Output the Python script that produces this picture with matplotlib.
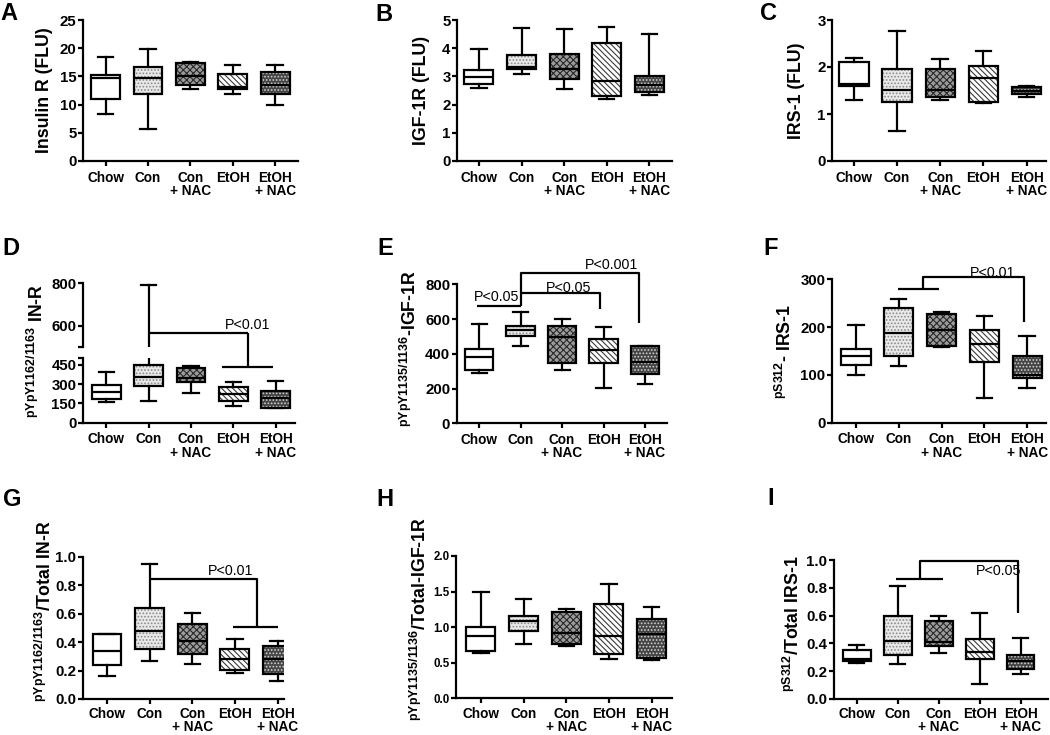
import matplotlib
matplotlib.use('Agg')
import matplotlib.pyplot as plt
from matplotlib.patches import PathPatch
from matplotlib.lines import Line2D

plt.rcParams['font.family'] = ['Liberation Sans', 'DejaVu Sans']
plt.rcParams['font.weight'] = 'bold'
plt.rcParams['axes.labelweight'] = 'bold'
plt.rcParams['mathtext.fontset'] = 'custom'
plt.rcParams['mathtext.rm'] = 'Liberation Sans:bold'
plt.rcParams['mathtext.bf'] = 'Liberation Sans:bold'
plt.rcParams['mathtext.it'] = 'Liberation Sans:bold'
plt.rcParams['hatch.linewidth'] = 0.8

# ---------------- data ----------------
categories = ['Chow', 'Con', 'Con\n+ NAC', 'EtOH', 'EtOH\n+ NAC']

# A  Insulin R (FLU)
A_lo  = [8.3, 5.7, 12.7, 11.9, 9.9]
A_q1  = [11.0, 11.8, 13.5, 12.8, 11.8]
A_med = [14.8, 14.8, 15.1, 13.2, 13.4]
A_q3  = [15.25, 16.7, 17.3, 15.4, 15.7]
A_hi  = [18.5, 19.8, 17.5, 17.0, 17.1]

# B  IGF-1R (FLU)
B_lo  = [2.6, 3.1, 2.55, 2.19, 2.34]
B_q1  = [2.73, 3.25, 2.9, 2.3, 2.43]
B_med = [2.99, 3.33, 3.25, 2.84, 2.7]
B_q3  = [3.22, 3.76, 3.78, 4.17, 3.01]
B_hi  = [3.97, 4.7, 4.68, 4.76, 4.5]

# C  IRS-1 (FLU)
C_lo  = [1.3, 0.64, 1.3, 1.23, 1.37]
C_q1  = [1.6, 1.26, 1.37, 1.26, 1.42]
C_med = [1.63, 1.52, 1.51, 1.77, 1.5]
C_q3  = [2.1, 1.95, 1.95, 2.02, 1.57]
C_hi  = [2.2, 2.77, 2.16, 2.35, 1.6]

# D  pYpY1162/1163 IN-R
D_lo  = [158, 169, 234, 132, 112]
D_q1  = [182, 288, 314, 168, 112]
D_med = [242, 358, 345, 220, 192]
D_q3  = [294, 449, 422, 280, 246]
D_hi  = [390, 790, 442, 314, 324]

# E  pYpY1135/1136-IGF-1R
E_lo  = [292, 447, 307, 205, 226]
E_q1  = [307, 505, 345, 345, 284]
E_med = [384, 537, 499, 422, 351]
E_q3  = [428, 560, 562, 486, 445]
E_hi  = [570, 643, 599, 557, 445]

# F  pS312- IRS-1
F_lo  = [100, 119, 158, 51, 72]
F_q1  = [121, 140, 160, 126, 93]
F_med = [140, 187, 194, 164, 100]
F_q3  = [154, 239, 227, 193, 139]
F_hi  = [204, 258, 231, 223, 181]

# G  pYpY1162/1163/Total IN-R
G_lo  = [0.164, 0.267, 0.246, 0.185, 0.129]
G_q1  = [0.236, 0.35, 0.318, 0.204, 0.176]
G_med = [0.34, 0.48, 0.407, 0.281, 0.28]
G_q3  = [0.46, 0.637, 0.525, 0.351, 0.375]
G_hi  = [0.46, 0.946, 0.602, 0.419, 0.41]

# H  pYpY1135/1136/Total-IGF-1R
H_lo  = [0.64, 0.76, 0.74, 0.55, 0.54]
H_q1  = [0.66, 0.95, 0.77, 0.62, 0.57]
H_med = [0.88, 1.09, 0.92, 0.88, 0.91]
H_q3  = [1.0, 1.15, 1.21, 1.32, 1.11]
H_hi  = [1.49, 1.40, 1.255, 1.6, 1.28]

# I  pS312/Total IRS-1
I_lo  = [0.26, 0.25, 0.33, 0.105, 0.177]
I_q1  = [0.27, 0.32, 0.38, 0.285, 0.213]
I_med = [0.29, 0.42, 0.41, 0.34, 0.27]
I_q3  = [0.35, 0.60, 0.56, 0.43, 0.32]
I_hi  = [0.39, 0.81, 0.60, 0.62, 0.44]

# ---------------- styling ----------------
FACES = ['white', '#e9e9e9', '#9c9c9c', 'white', '#444444']
HATCHES = [None, '.....', 'xxxxx', '\\\\\\\\\\\\', '.....']
HATCH_COLORS = [None, '#8a8a8a', '#2a2a2a', '#3a3a3a', '#d0d0d0']
LW = 1.6
YTICK_FS = 10.8
XTICK_FS = 9.8

W, H = 1050, 735
fig = plt.figure(figsize=(10.5, 7.35), dpi=100)


def add_ax(left, top, right, bottom):
    return fig.add_axes([left / W, 1 - bottom / H, (right - left) / W, (bottom - top) / H])


def draw_boxes(ax, lo, q1, med, q3, hi):
    stats = [dict(whislo=a, q1=b, med=c, q3=d, whishi=e, fliers=[])
             for a, b, c, d, e in zip(lo, q1, med, q3, hi)]
    bp = ax.bxp(stats, positions=range(1, 6), widths=0.68, capwidths=0.36,
                patch_artist=True, showfliers=False,
                boxprops=dict(linewidth=0, facecolor='white'),
                medianprops=dict(color='black', linewidth=LW),
                whiskerprops=dict(color='black', linewidth=LW),
                capprops=dict(color='black', linewidth=LW))
    for patch, fc, h, hc in zip(bp['boxes'], FACES, HATCHES, HATCH_COLORS):
        patch.set_facecolor(fc)
        patch.set_zorder(2)
        if h:
            ax.add_patch(PathPatch(patch.get_path(), facecolor='none', edgecolor=hc,
                                   hatch=h, linewidth=0, zorder=2.05))
        ax.add_patch(PathPatch(patch.get_path(), facecolor='none', edgecolor='black',
                               linewidth=LW, zorder=2.1))
    for ln in bp['medians']:
        ln.set_zorder(2.2)
    return bp


def style(ax, xlim, ylim, yticks, yticklabels, show_x=True, xpad=3.5, lsp=0.95,
          yfs=YTICK_FS):
    ax.set_xlim(*xlim)
    ax.set_ylim(*ylim)
    ax.spines['top'].set_visible(False)
    ax.spines['right'].set_visible(False)
    ax.spines['left'].set_linewidth(LW)
    ax.spines['bottom'].set_linewidth(LW)
    ax.set_yticks(yticks)
    ax.set_yticklabels(yticklabels)
    ax.tick_params(axis='y', length=3.5, width=LW, labelsize=yfs, pad=1.2)
    if show_x:
        ax.set_xticks(range(1, 6))
        ax.set_xticklabels(categories, linespacing=lsp)
        ax.tick_params(axis='x', length=3.5, width=LW, labelsize=XTICK_FS, pad=xpad)
    else:
        ax.spines['bottom'].set_visible(False)
        ax.set_xticks([])


def ylab(ax, text, right_px, center_frac, ax_left_px, ax_w_px):
    ax.set_ylabel(text, fontsize=12.8, fontweight='bold')
    ax.yaxis.set_label_coords((right_px - ax_left_px) / ax_w_px, center_frac)


def bracket(ax, xs, ys):
    ax.plot(xs, ys, color='black', lw=LW, clip_on=False, solid_capstyle='butt', zorder=3)


def ptext(ax, x, y, s):
    ax.text(x, y, s, ha='center', va='bottom', fontsize=10.3, fontweight='normal', zorder=4)


def letter(x, y, s):
    fig.text(x / W, 1 - y / H, s, fontsize=17, fontweight='bold', ha='left', va='baseline')


# ---------------- row 1 ----------------
axA = add_ax(83, 20, 298, 161)
draw_boxes(axA, A_lo, A_q1, A_med, A_q3, A_hi)
style(axA, (0.466, 5.54), (0, 25), [0, 5, 10, 15, 20, 25], ['0', '5', '10', '15', '20', '25'])
ylab(axA, 'Insulin R (FLU)', 53, 0.5, 83, 215)

axB = add_ax(457, 20, 672, 161)
draw_boxes(axB, B_lo, B_q1, B_med, B_q3, B_hi)
style(axB, (0.484, 5.53), (0, 5), [0, 1, 2, 3, 4, 5], ['0', '1', '2', '3', '4', '5'])
ylab(axB, 'IGF-1R (FLU)', 430, 0.5, 457, 215)

axC = add_ax(832, 20, 1046, 161)
draw_boxes(axC, C_lo, C_q1, C_med, C_q3, C_hi)
style(axC, (0.493, 5.45), (0, 3), [0, 1, 2, 3], ['0', '1', '2', '3'])
ylab(axC, 'IRS-1 (FLU)', 805, 0.5, 832, 214)

# ---------------- row 2 ----------------
axDu = add_ax(83, 283.3, 295, 346.7)
axDl = add_ax(83, 358.3, 295, 422.7)
draw_boxes(axDu, D_lo, D_q1, D_med, D_q3, D_hi)
draw_boxes(axDl, D_lo, D_q1, D_med, D_q3, D_hi)
style(axDu, (0.45, 5.46), (500, 800), [500, 600, 800], ['', '600', '800'], show_x=False)
style(axDl, (0.45, 5.46), (0, 500), [0, 150, 300, 450, 500], ['0', '150', '300', '450', ''])
ylab(axDl, r'$^{\mathrm{pYpY1162/1163}}$ IN-R', 47, (422.7 - 351) / 64.4, 83, 212)


def to_fig(ax, x, y):
    return fig.transFigure.inverted().transform(ax.transData.transform((x, y)))


def fig_line(pts):
    xs = [p[0] for p in pts]
    ys = [p[1] for p in pts]
    fig.add_artist(Line2D(xs, ys, transform=fig.transFigure, color='black', lw=LW,
                          solid_capstyle='butt', zorder=5))


fig_line([to_fig(axDu, 2, 564), to_fig(axDu, 4.35, 564)])
fig_line([to_fig(axDu, 4.35, 564), to_fig(axDl, 4.35, 431)])
fig_line([to_fig(axDl, 3.73, 431), to_fig(axDl, 4.95, 431)])
ptext(axDu, 4.33, 570, 'P<0.01')

axE = add_ax(456.7, 284.3, 667, 423.3)
draw_boxes(axE, E_lo, E_q1, E_med, E_q3, E_hi)
style(axE, (0.46, 5.53), (0, 800), [0, 200, 400, 600, 800], ['0', '200', '400', '600', '800'])
ylab(axE, r'$^{\mathrm{pYpY1135/1136}}$-IGF-1R', 420, 0.538, 456.7, 210.3)
bracket(axE, [0.94, 2.0], [675, 675])
ptext(axE, 1.43, 686, 'P<0.05')
bracket(axE, [2.0, 3.92, 3.92], [752, 752, 655])
ptext(axE, 3.15, 736, 'P<0.05')
bracket(axE, [2.0, 2.0, 4.86, 4.86], [675, 863, 863, 580])
ptext(axE, 4.2, 868, 'P<0.001')

axF = add_ax(832, 279.3, 1046, 422.7)
draw_boxes(axF, F_lo, F_q1, F_med, F_q3, F_hi)
style(axF, (0.44, 5.44), (0, 300), [0, 100, 200, 300], ['0', '100', '200', '300'])
ylab(axF, r'$^{\mathrm{pS312}}$- IRS-1', 795, 0.5, 832, 214)
bracket(axF, [1.98, 2.95], [279, 279])
bracket(axF, [2.57, 2.57, 4.92, 4.92], [279, 305, 305, 211])
ptext(axF, 4.19, 298, 'P<0.01')

# ---------------- row 3 ----------------
axG = add_ax(82.7, 556.7, 283.5, 699)
draw_boxes(axG, G_lo, G_q1, G_med, G_q3, G_hi)
style(axG, (0.43, 5.14), (0, 1.0), [0, 0.2, 0.4, 0.6, 0.8, 1.0],
      ['0.0', '0.2', '0.4', '0.6', '0.8', '1.0'], xpad=2.5, lsp=0.9)
ylab(axG, r'$^{\mathrm{pYpY1162/1163}}$/Total IN-R', 55, 0.618, 82.7, 200.8)
bracket(axG, [1.99, 4.51, 4.51], [0.84, 0.84, 0.508])
bracket(axG, [3.96, 5.02], [0.508, 0.508])
ptext(axG, 3.89, 0.85, 'P<0.01')

axH = add_ax(456, 556, 671.7, 698.3)
draw_boxes(axH, H_lo, H_q1, H_med, H_q3, H_hi)
style(axH, (0.415, 5.47), (0, 2.0), [0, 0.5, 1.0, 1.5, 2.0], ['0.0', '0.5', '1.0', '1.5', '2.0'],
      xpad=2.5, lsp=0.9, yfs=8.3)
ylab(axH, r'$^{\mathrm{pYpY1135/1136}}$/Total-IGF-1R', 430, 0.557, 456, 215.7)

axI = add_ax(834, 560, 1048, 699)
draw_boxes(axI, I_lo, I_q1, I_med, I_q3, I_hi)
style(axI, (0.446, 5.67), (0, 1.0), [0, 0.2, 0.4, 0.6, 0.8, 1.0],
      ['0.0', '0.2', '0.4', '0.6', '0.8', '1.0'], xpad=2.5, lsp=0.9)
ylab(axI, r'$^{\mathrm{pS312}}$/Total IRS-1', 803, 0.543, 834, 214)
bracket(axI, [1.96, 3.1], [0.86, 0.86])
bracket(axI, [2.54, 2.54, 4.94, 4.94], [0.86, 0.993, 0.993, 0.62])
ptext(axI, 4.47, 0.87, 'P<0.05')

# ---------------- panel letters ----------------
letter(0, 20, 'A')
letter(375, 21, 'B')
letter(760, 20, 'C')
letter(2, 255, 'D')
letter(377, 255, 'E')
letter(763, 255, 'F')
letter(3, 506, 'G')
letter(376, 506, 'H')
letter(767, 505, 'I')

fig.savefig('out.png', dpi=100)
